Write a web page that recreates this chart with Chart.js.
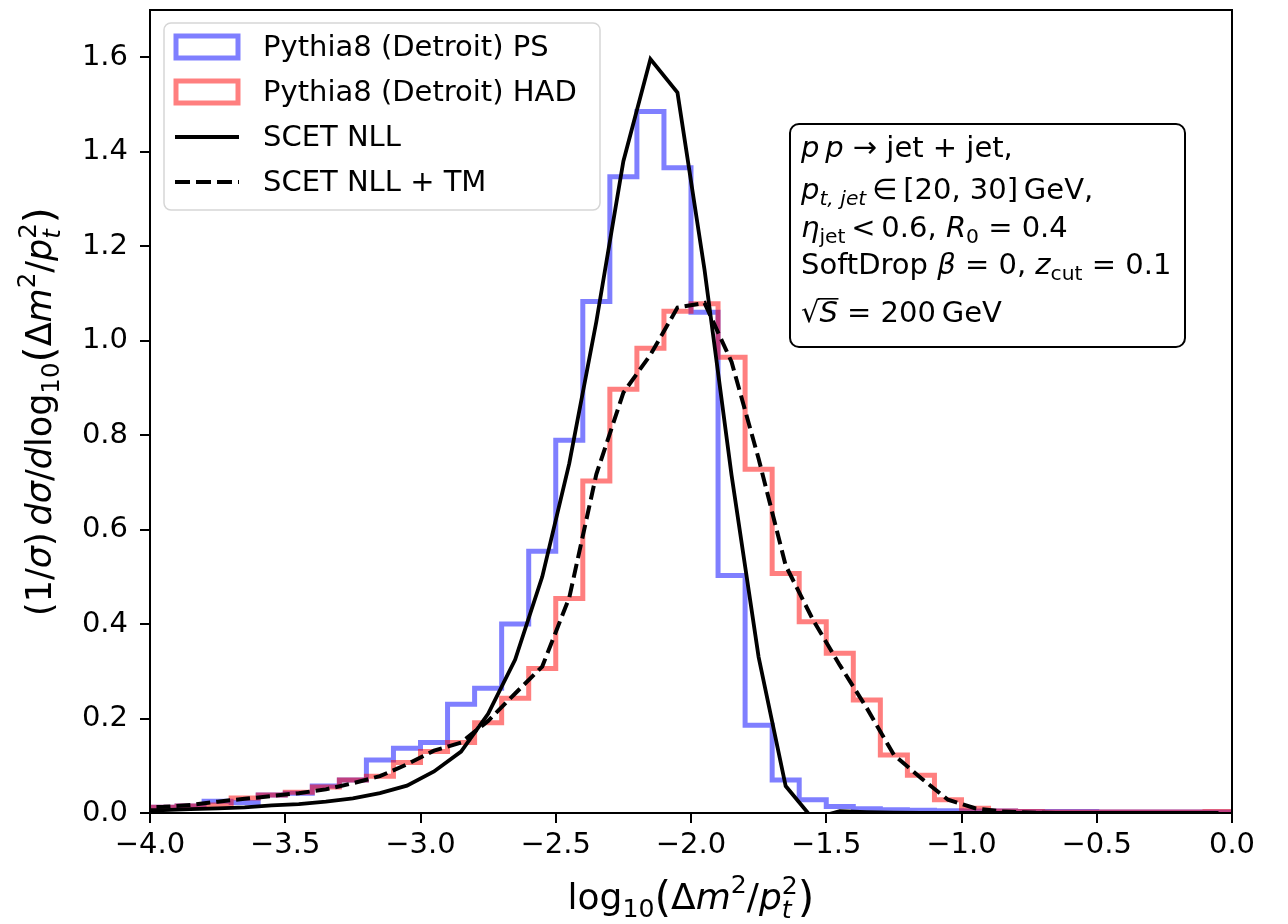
<!DOCTYPE html>
<html>
<head>
<meta charset="utf-8">
<script src="https://cdn.jsdelivr.net/npm/chart.js@4.4.1/dist/chart.umd.min.js"></script>
<style>
  html, body { margin: 0; padding: 0; background: #fff; }
  #wrap { width: 1288px; height: 924px; }
</style>
</head>
<body>
<div id="wrap"><canvas id="jetChart" width="1288" height="924"></canvas></div>
<script>
// histogram bins: 0.1 wide, from -4.0 to 0.0
const binStart = -4.0;
const binWidth = 0.1;

// Pythia8 (Detroit) PS, one value per bin
const psValues = [
    0.012, 0.015, 0.025, 0.022, 0.038, 0.042, 0.057, 0.070, 0.112, 0.137,
    0.149, 0.230, 0.264, 0.400, 0.554, 0.789, 1.083, 1.347, 1.485, 1.366,
    1.060, 0.503, 0.186, 0.070, 0.028, 0.014, 0.009, 0.007, 0.006, 0.005,
    0.004, 0.004, 0.003, 0.003, 0.003, 0.002, 0.002, 0.002, 0.002, 0.002
];

// Pythia8 (Detroit) HAD
const hadValues = [
    0.012, 0.015, 0.017, 0.032, 0.038, 0.044, 0.055, 0.070, 0.078, 0.107,
    0.130, 0.149, 0.191, 0.243, 0.306, 0.454, 0.703, 0.897, 0.984, 1.062,
    1.078, 0.965, 0.728, 0.507, 0.405, 0.338, 0.239, 0.123, 0.080, 0.028,
    0.010, 0.004, 0.003, 0.002, 0.002, 0.002, 0.002, 0.002, 0.002, 0.003
];

// SCET curves, sampled at bin centres from -4.05 to -0.05
const curveStart = -4.05;
const nllValues = [
    0.006, 0.006, 0.008, 0.010, 0.012, 0.016, 0.019, 0.024, 0.031, 0.042,
    0.058, 0.088, 0.130, 0.210, 0.325, 0.500, 0.740, 1.040, 1.380, 1.596,
    1.525, 1.150, 0.715, 0.330, 0.057, -0.012, 0.004, 0.002, 0.001, 0.000,
    0.000, 0.000, 0.000, 0.000, 0.000, 0.000, 0.000, 0.000, 0.000, 0.000,
    0.000
];
const nllTmValues = [
    0.011, 0.013, 0.017, 0.024, 0.030, 0.036, 0.042, 0.050, 0.063, 0.078,
    0.103, 0.132, 0.149, 0.195, 0.253, 0.310, 0.456, 0.717, 0.890, 0.970,
    1.070, 1.080, 0.955, 0.750, 0.524, 0.410, 0.313, 0.222, 0.123, 0.074,
    0.028, 0.010, 0.003, 0.001, 0.000, 0.000, 0.000, 0.000, 0.000, 0.000,
    0.000
];

const xTicks = [-4.0, -3.5, -3.0, -2.5, -2.0, -1.5, -1.0, -0.5, 0.0];
const yTicks = [0.0, 0.2, 0.4, 0.6, 0.8, 1.0, 1.2, 1.4, 1.6];

const seriesNames = [
    'Pythia8 (Detroit) PS',
    'Pythia8 (Detroit) HAD',
    'SCET NLL',
    'SCET NLL + TM'
];

const FONT = '"DejaVu Sans", "Liberation Sans", sans-serif';
const blue = 'rgba(0, 0, 255, 0.5)';
const red = 'rgba(255, 0, 0, 0.5)';

function stepPoints(values) {
    // matplotlib 'step' histogram outline
    const pts = [{ x: binStart, y: 0 }];
    values.forEach((v, i) => pts.push({ x: +(binStart + i * binWidth).toFixed(2), y: v }));
    const end = +(binStart + values.length * binWidth).toFixed(2);
    pts.push({ x: end, y: values[values.length - 1] });
    pts.push({ x: end, y: 0 });
    return pts;
}

function curvePoints(values) {
    return values.map((v, i) => ({ x: +(curveStart + i * binWidth).toFixed(2), y: v }));
}

function fmtTick(v) {
    return (v < -1e-9 ? '\u2212' : '') + Math.abs(v).toFixed(1);
}

// --- tiny mathtext-ish renderer ---
function segFont(size, seg, it) {
    return (it ? 'italic ' : '') + (size * (seg.sc || 1)).toFixed(1) + 'px ' + FONT;
}
function segWidth(ctx, size, seg) {
    if (seg.stack) {
        ctx.font = (size * 0.7).toFixed(1) + 'px ' + FONT;
        const a = ctx.measureText(seg.sup).width;
        ctx.font = 'italic ' + (size * 0.7).toFixed(1) + 'px ' + FONT;
        const b = ctx.measureText(seg.sub).width;
        return Math.max(a, b);
    }
    ctx.font = segFont(size, seg, seg.it);
    return ctx.measureText(seg.t).width;
}
function drawRich(ctx, segs, x, y, size, align) {
    let total = 0;
    segs.forEach(s => total += segWidth(ctx, size, s));
    let cx = align === 'center' ? x - total / 2 : x;
    ctx.textAlign = 'left';
    ctx.textBaseline = 'alphabetic';
    segs.forEach(s => {
        const w = segWidth(ctx, size, s);
        if (s.stack) {
            ctx.font = (size * 0.7).toFixed(1) + 'px ' + FONT;
            ctx.fillText(s.sup, cx, y - size * 0.42);
            ctx.font = 'italic ' + (size * 0.7).toFixed(1) + 'px ' + FONT;
            ctx.fillText(s.sub, cx, y + size * 0.26);
        } else {
            ctx.font = segFont(size, s, s.it);
            ctx.fillText(s.t, cx, y + (s.dy || 0) * size);
            if (s.over) {
                ctx.beginPath();
                ctx.lineWidth = 1.6;
                ctx.moveTo(cx - size * 0.05, y - size * 0.8);
                ctx.lineTo(cx + w + size * 0.02, y - size * 0.8);
                ctx.stroke();
            }
        }
        cx += w;
    });
}
const T = t => ({ t });
const I = t => ({ t, it: true });
const Sub = (t, it) => ({ t, it, sc: 0.7, dy: 0.22 });
const Sup = t => ({ t, sc: 0.7, dy: -0.45 });
const Big = t => ({ t, sc: 1.18, dy: 0.07 });

const massRatio = [T('log'), Sub('10'), Big('('), T('\u0394'), I('m'), Sup('2'), T('/'), I('p'),
    { stack: true, sup: '2', sub: 't' }, Big(')')];
const xTitle = massRatio;
const yTitle = [T('(1/'), I('\u03c3'), T(')\u2009'), I('d\u03c3'), T('/'), I('d')].concat(massRatio);

const infoLines = [
    [I('p'), T('\u2009'), I('p'), T(' \u2192 jet + jet,')],
    [I('p'), Sub('t, jet', true), T('\u2009\u2208\u2009[20, 30]\u2009GeV,')],
    [I('\u03b7'), Sub('jet'), T('\u2009<\u20090.6, '), I('R'), Sub('0'), T(' = 0.4')],
    [T('SoftDrop '), I('\u03b2'), T(' = 0, '), I('z'), Sub('cut'), T(' = 0.1')],
    [T('\u221a'), { t: 'S', it: true, over: true }, T(' = 200\u2009GeV')]
];

const overlay = {
    id: 'overlay',
    afterDraw(chart) {
        const ctx = chart.ctx;
        const a = chart.chartArea;
        ctx.save();
        ctx.fillStyle = '#000';
        ctx.strokeStyle = '#000';

        // frame
        ctx.lineWidth = 2;
        ctx.strokeRect(a.left, a.top, a.right - a.left, a.bottom - a.top);

        // axis titles
        drawRich(ctx, xTitle, (a.left + a.right) / 2, 909, 36, 'center');
        ctx.save();
        ctx.translate(51, (a.top + a.bottom) / 2);
        ctx.rotate(-Math.PI / 2);
        drawRich(ctx, yTitle, 0, 0, 35, 'center');
        ctx.restore();

        // legend
        const lx = a.left + 14, ly = a.top + 13, lw = 436, lh = 187;
        ctx.beginPath();
        ctx.roundRect(lx, ly, lw, lh, 7);
        ctx.fillStyle = 'rgba(255,255,255,0.8)';
        ctx.fill();
        ctx.lineWidth = 1.5;
        ctx.strokeStyle = '#d6d6d6';
        ctx.stroke();
        const rowY = [ly + 24, ly + 69, ly + 114, ly + 159];
        ctx.lineWidth = 5;
        ctx.strokeStyle = blue;
        ctx.strokeRect(lx + 12, rowY[0] - 11, 62, 22);
        ctx.strokeStyle = red;
        ctx.strokeRect(lx + 12, rowY[1] - 11, 62, 22);
        ctx.strokeStyle = '#000';
        ctx.lineWidth = 3.8;
        ctx.beginPath();
        ctx.moveTo(lx + 11, rowY[2]); ctx.lineTo(lx + 75, rowY[2]);
        ctx.stroke();
        ctx.setLineDash([15, 6]);
        ctx.beginPath();
        ctx.moveTo(lx + 11, rowY[3]); ctx.lineTo(lx + 75, rowY[3]);
        ctx.stroke();
        ctx.setLineDash([]);
        ctx.fillStyle = '#000';
        ctx.font = '29px ' + FONT;
        ctx.textBaseline = 'middle';
        ctx.textAlign = 'left';
        seriesNames.forEach((n, i) => ctx.fillText(n, lx + 99, rowY[i] + 1));

        // info box
        ctx.beginPath();
        ctx.roundRect(790, 124, 395, 223, 9);
        ctx.fillStyle = '#fff';
        ctx.fill();
        ctx.lineWidth = 2;
        ctx.strokeStyle = '#000';
        ctx.stroke();
        ctx.fillStyle = '#000';
        const base = [157, 199, 237, 274, 322];
        infoLines.forEach((ln, i) => drawRich(ctx, ln, 801, base[i], 29, 'left'));

        ctx.restore();
    }
};

function axisCommon(ticksArr) {
    return {
        type: 'linear',
        afterBuildTicks: s => { s.ticks = ticksArr.map(v => ({ value: v })); },
        ticks: {
            callback: fmtTick,
            color: '#000',
            font: { family: FONT, size: 29 },
            autoSkip: false,
            maxRotation: 0
        },
        grid: {
            display: true,
            drawOnChartArea: false,
            drawTicks: true,
            tickLength: 10,
            lineWidth: 2,
            color: '#000'
        },
        border: { display: false }
    };
}

const xAxis = axisCommon(xTicks);
xAxis.min = -4.0;
xAxis.max = 0.0;
xAxis.ticks.padding = 5;
xAxis.afterFit = s => { s.height = 111; s.paddingLeft = 0; s.paddingRight = 0; };

const yAxis = axisCommon(yTicks);
yAxis.min = 0.0;
yAxis.max = 1.7;
yAxis.ticks.padding = 12;
yAxis.afterFit = s => { s.width = 150; s.paddingTop = 0; s.paddingBottom = 0; };

const ctx = document.getElementById('jetChart').getContext('2d');
new Chart(ctx, {
    type: 'line',
    data: {
        datasets: [
            {
                label: seriesNames[0],
                data: stepPoints(psValues),
                borderColor: blue,
                borderWidth: 5,
                stepped: 'before',
                order: 3
            },
            {
                label: seriesNames[1],
                data: stepPoints(hadValues),
                borderColor: red,
                borderWidth: 5,
                stepped: 'before',
                order: 2
            },
            {
                label: seriesNames[2],
                data: curvePoints(nllValues),
                borderColor: '#000',
                borderWidth: 3.8,
                order: 1
            },
            {
                label: seriesNames[3],
                data: curvePoints(nllTmValues),
                borderColor: '#000',
                borderWidth: 4,
                borderDash: [14, 6],
                order: 0
            }
        ]
    },
    options: {
        responsive: false,
        animation: false,
        devicePixelRatio: 1,
        layout: { padding: { top: 10, right: 56, left: 0, bottom: 0 } },
        elements: {
            point: { radius: 0, hoverRadius: 0 },
            line: { tension: 0, fill: false, borderJoinStyle: 'miter', borderCapStyle: 'butt' }
        },
        datasets: { line: { clip: 0 } },
        plugins: {
            legend: { display: false },
            tooltip: { enabled: false }
        },
        scales: { x: xAxis, y: yAxis }
    },
    plugins: [overlay]
});
</script>
</body>
</html>
